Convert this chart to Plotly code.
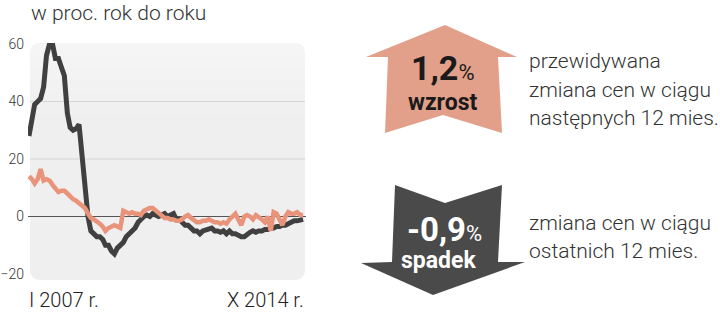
import pandas as pd
import plotly.graph_objects as go

# ---- data ----
START_MONTH = "2007-01-01"
N_MONTHS = 94  # I 2007 .. X 2014
months = pd.date_range(START_MONTH, periods=N_MONTHS, freq="MS")

dark_series = [
    28, 34, 39, 40, 41, 45, 56, 60, 60, 55,
    55, 52, 49, 36, 31, 30, 30.5, 32, 20, 8,
    0, -5, -6, -7, -7, -8, -10, -10, -12, -13,
    -11, -10, -9, -7, -6, -5, -4, -2, -1, 0,
    0.5, 0, 1, 0.5, 0, 0.5, 1, 0, 0.5, 1,
    -1, -1, -2, -3, -3, -4, -5, -5, -6, -5,
    -4.5, -4, -4, -5, -5, -5.5, -5, -6, -5, -6,
    -6, -6.5, -7, -7, -6, -5.5, -5, -5.5, -5, -5,
    -4.5, -4.5, -4, -4, -3.5, -3.5, -3, -3, -2.5, -2,
    -1.5, -1.5, -1, -1,
]
orange_series = [
    14, 13, 11.5, 13, 16.5, 12.5, 13, 12.5, 11, 10,
    8.5, 9, 9, 8, 7, 6, 5.5, 4.5, 3.5, 3,
    1, -0.5, -1, -2, -2.5, -3.5, -5, -4, -3.5, -3,
    -3.5, -4, 2, 1.5, 1, 1.5, 1, 1, 0.5, 2,
    2.5, 3, 3, 2, 1, 0, -0.5, -0.5, -1, -1,
    -1.5, -1.5, -1, 0, 0.5, -0.5, -1.5, -2, -2, -1.5,
    -1.5, -1, -1.5, -2, -2, -2.5, -2, -2.5, -1, 0,
    1, -1, -3, 0, 0.5, 0, -1, 0.5, -0.5, -1,
    -2, 0, -5, 1.5, 1, -1, -3, 0, 1.5, 1,
    1, 1.5, 0.5, 0.5,
]
y_ticks = [-20, 0, 20, 40, 60]
grid_lines = [20, 40]
x_labels = ["I 2007 r.", "X 2014 r."]
title_text = "w proc. rok do roku"
up_value, up_word = "1,2", "wzrost"
down_value, down_word = "-0,9", "spadek"
up_desc = ["przewidywana", "zmiana cen w ciągu", "następnych 12 mies."]
down_desc = ["zmiana cen w ciągu", "ostatnich 12 mies."]

# ---- layout geometry (pixels) ----
W_FIG, H_FIG = 720, 314
L, T = 28, 43
PW, PH = 278, 237
R = W_FIG - L - PW
B = H_FIG - T - PH

def X(px):
    return (px - L) / PW

def Y(py):
    return (T + PH - py) / PH

FONT = "Roboto"
DARK = "#404040"
ORANGE = "#e8937a"
TXT = "#333333"

fig = go.Figure()
fig.add_trace(go.Scatter(x=months, y=dark_series, mode="lines",
                         line=dict(color=DARK, width=5), hoverinfo="skip"))
fig.add_trace(go.Scatter(x=months, y=orange_series, mode="lines",
                         line=dict(color=ORANGE, width=4.5), hoverinfo="skip"))

shapes = []
# rounded grey background
x0, x1, y0, y1 = X(30), X(305), Y(280), Y(43)
rx, ry = 11 / PW, 11 / PH
path = (f"M {x0+rx},{y0} L {x1-rx},{y0} Q {x1},{y0} {x1},{y0+ry} "
        f"L {x1},{y1-ry} Q {x1},{y1} {x1-rx},{y1} L {x0+rx},{y1} "
        f"Q {x0},{y1} {x0},{y1-ry} L {x0},{y0+ry} Q {x0},{y0} {x0+rx},{y0} Z")
shapes.append(dict(type="path", path=path, xref="paper", yref="paper",
                   fillcolor="#efefef", line=dict(width=0), layer="below"))
# soft lighter top gradient
for k in range(6):
    shapes.append(dict(type="rect", xref="paper", yref="paper",
                       x0=x0, x1=x1, y0=Y(43 + 12 * (k + 1)), y1=y1,
                       fillcolor="white", opacity=0.09, line=dict(width=0),
                       layer="below"))
for g in grid_lines:
    shapes.append(dict(type="line", xref="paper", yref="y", x0=x0, x1=x1,
                       y0=g, y1=g, line=dict(color="#d4d4d4", width=1),
                       layer="below"))

def poly(pts):
    return "M " + " L ".join(f"{X(a)},{Y(b)}" for a, b in pts) + " Z"

up_pts = [(445, 25), (517, 57), (498, 57), (502, 133), (443, 115),
          (385, 133), (388, 57), (366, 57)]
down_pts = [(395, 185), (445, 203), (502, 185), (498, 262), (525, 262),
            (433, 295), (361, 263), (392, 262)]
shapes.append(dict(type="path", path=poly(up_pts), xref="paper", yref="paper",
                   fillcolor="#e2a08b", line=dict(width=0)))
shapes.append(dict(type="path", path=poly(down_pts), xref="paper", yref="paper",
                   fillcolor="#4a4a4a", line=dict(width=0)))

ann = []
ann.append(dict(text=title_text, x=X(29), y=Y(13), xref="paper", yref="paper",
                xanchor="left", yanchor="middle", showarrow=False,
                font=dict(family=FONT, size=21, color=TXT, weight=300)))
ann.append(dict(text=x_labels[0], x=months[0], y=Y(300), xref="x", yref="paper",
                xanchor="left", yanchor="middle", showarrow=False,
                xshift=-2,
                font=dict(family=FONT, size=20, color="#222", weight=300)))
ann.append(dict(text=x_labels[1], x=months[-1], y=Y(300), xref="x", yref="paper",
                xanchor="right", yanchor="middle", showarrow=False,
                xshift=3,
                font=dict(family=FONT, size=20, color="#222", weight=300)))
ann.append(dict(text=f"<b>{up_value}</b><span style='font-size:22px;font-weight:400'>%</span>",
                x=X(443), y=Y(68), xref="paper", yref="paper",
                xanchor="center", yanchor="middle", showarrow=False,
                font=dict(family=FONT, size=34, color="#1a1a1a")))
ann.append(dict(text=f"<b>{up_word}</b>", x=X(442), y=Y(102), xref="paper", yref="paper",
                xanchor="center", yanchor="middle", showarrow=False,
                font=dict(family=FONT, size=23, color="#1a1a1a")))
ann.append(dict(text=f"<b>{down_value}</b><span style='font-size:22px;font-weight:400'>%</span>",
                x=X(444), y=Y(229), xref="paper", yref="paper",
                xanchor="center", yanchor="middle", showarrow=False,
                font=dict(family=FONT, size=33, color="white")))
ann.append(dict(text=f"<b>{down_word}</b>", x=X(438), y=Y(260), xref="paper", yref="paper",
                xanchor="center", yanchor="middle", showarrow=False,
                font=dict(family=FONT, size=23, color="white")))
for i, line in enumerate(up_desc):
    ann.append(dict(text=line, x=X(527), y=Y(61 + 28.5 * i), xref="paper", yref="paper",
                    xanchor="left", yanchor="middle", showarrow=False,
                    font=dict(family=FONT, size=21, color=TXT, weight=300)))
for i, line in enumerate(down_desc):
    ann.append(dict(text=line, x=X(527), y=Y(223 + 28 * i), xref="paper", yref="paper",
                    xanchor="left", yanchor="middle", showarrow=False,
                    font=dict(family=FONT, size=21, color=TXT, weight=300)))

# y range so that 60 -> y=44 px and -20 -> y=274 px
ppu = (274 - 44) / 80
y_top = 60 + (44 - T) / ppu
y_bot = -20 - (T + PH - 274) / ppu

fig.update_layout(
    width=W_FIG, height=H_FIG,
    margin=dict(l=L, r=R, t=T, b=B, pad=0, autoexpand=False),
    paper_bgcolor="white", plot_bgcolor="rgba(0,0,0,0)",
    showlegend=False, shapes=shapes, annotations=ann,
    xaxis=dict(range=["2006-12-22", "2014-10-31"], showgrid=False, zeroline=False,
               showticklabels=False, ticks="", showline=False, automargin=False),
    yaxis=dict(range=[y_bot, y_top], tickvals=y_ticks, showgrid=False,
               zeroline=True, zerolinecolor="#555", zerolinewidth=1,
               ticks="", showline=False, ticklabelstandoff=3, automargin=False,
               tickfont=dict(family=FONT, size=14, color=TXT, weight=300)),
)
fig.write_html("out.html")
